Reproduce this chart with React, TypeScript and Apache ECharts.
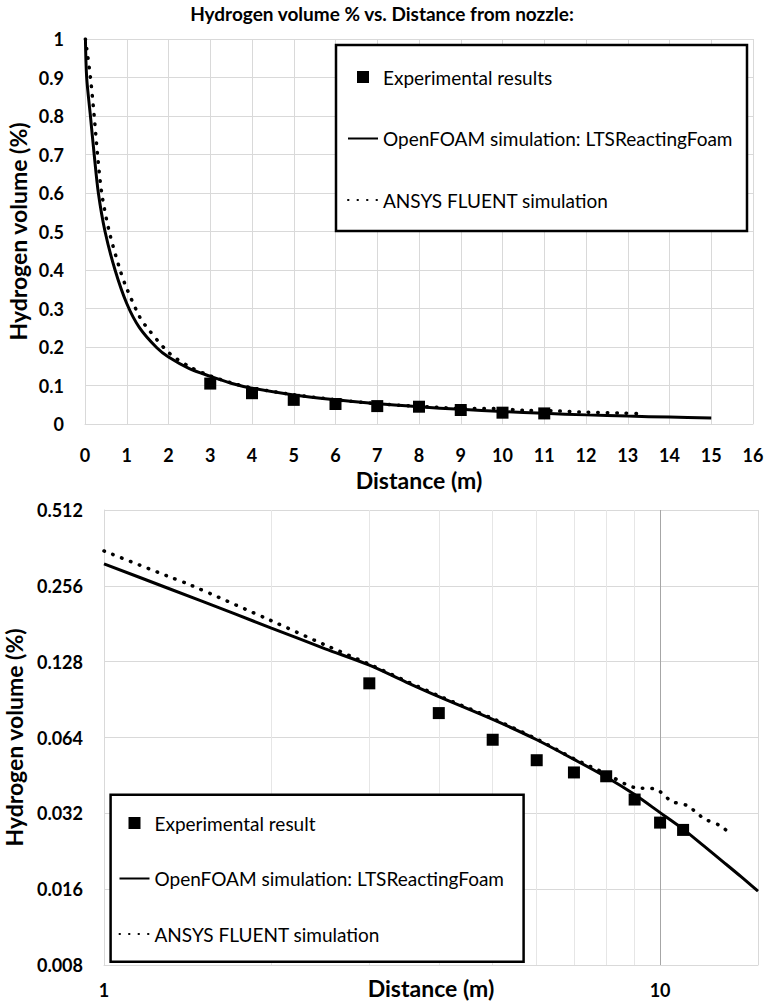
import React, { useEffect, useRef } from 'react';
import * as echarts from 'echarts';

// ---- data ----
const expX = [3, 4, 5, 6, 7, 8, 9, 10, 11];
const expY = [0.105, 0.080, 0.0627, 0.052, 0.0465, 0.0449, 0.0363, 0.0294, 0.0275];

const foamX = [0.01, 0.04, 0.13, 0.22, 0.32, 0.48, 0.72, 1.0, 1.3, 1.72, 2.0, 2.5, 3.0, 3.5, 4.0, 5.0, 6.0, 7.0, 8.0, 9.0, 10.0, 11.0, 12.0, 13.0, 14.0, 15.0];
const foamY = [1.0, 0.9, 0.8, 0.7, 0.6, 0.5, 0.4, 0.313, 0.251, 0.198, 0.174, 0.144, 0.124, 0.106, 0.093, 0.0755, 0.0627, 0.0524, 0.0446, 0.038, 0.0322, 0.0277, 0.0237, 0.0205, 0.0179, 0.0157];

const fluentX = [0.01, 0.13, 0.22, 0.30, 0.40, 0.58, 0.84, 1.0, 1.3, 1.43, 2.0, 2.5, 3.0, 3.5, 4.0, 5.0, 6.0, 7.0, 8.0, 9.0, 9.8, 10.5, 11.2, 12.0, 12.9, 13.3];
const fluentY = [1.0, 0.9, 0.8, 0.7, 0.6, 0.5, 0.4, 0.352, 0.28, 0.258, 0.186, 0.149, 0.125, 0.107, 0.0937, 0.0761, 0.0631, 0.0527, 0.0459, 0.0405, 0.040, 0.0357, 0.0343, 0.0305, 0.0284, 0.0267];

// tick / gridline values of the log/log chart
const minorLogX = [2, 3, 4, 5, 6, 7, 8, 9];
const logXLabels = [1, 10];
const logYTicks = [0.008, 0.016, 0.032, 0.064, 0.128, 0.256, 0.512];

const TITLE = 'Hydrogen volume % vs. Distance from nozzle:';
const X_NAME = 'Distance (m)';
const Y_NAME = 'Hydrogen volume (%)';
const EXP_TOP = 'Experimental results';
const EXP_BOTTOM = 'Experimental result';
const FOAM = 'OpenFOAM simulation: LTSReactingFoam';
const FLUENT = 'ANSYS FLUENT simulation';

const zip = (xs: number[], ys: number[]) => xs.map((x, i) => [x, ys[i]]);

const FONT = 'Lato, "Noto Sans", sans-serif';
const SQUARE = 'path://M0 0H10V10H0Z';
const GRID_C = '#d9d9d9';

export default function App() {
  const ref = useRef<HTMLDivElement>(null);
  useEffect(() => {
    if (!ref.current) return;
    const chart = echarts.init(ref.current, undefined, { renderer: 'svg' });

    const labelStyle = { color: '#000', fontFamily: FONT, fontWeight: 'bold' as const, fontSize: 18 };
    const nameStyle = { color: '#000', fontFamily: FONT, fontWeight: 'bold' as const, fontSize: 23 };
    const legendText = { color: '#000', fontFamily: FONT, fontSize: 19, lineHeight: 20 };

    const expPts = zip(expX, expY);
    const foamPts = zip(foamX, foamY);
    const fluentPts = zip(fluentX, fluentY);

    const solid = { color: '#000', width: 3 };
    const dotted = { color: '#000', width: 3.5, type: [0.5, 9], cap: 'round' };
    const hideSymbol = { itemStyle: { opacity: 0 } };

    const option: any = {
      animation: false,
      backgroundColor: '#fff',
      title: {
        text: TITLE,
        left: 'center',
        top: 4,
        padding: 0,
        textStyle: { color: '#000', fontFamily: FONT, fontWeight: 'bold', fontSize: 19 },
      },
      grid: [
        { left: 85, top: 39, width: 668, height: 385, outerBoundsMode: 'none', containLabel: false },
        { left: 104, top: 510, width: 654, height: 455, outerBoundsMode: 'none', containLabel: false },
      ],
      xAxis: [
        {
          gridIndex: 0, type: 'value', min: 0, max: 16, interval: 1,
          axisLine: { onZero: false, lineStyle: { color: GRID_C } },
          axisTick: { show: false },
          splitLine: { show: true, lineStyle: { color: GRID_C } },
          axisLabel: { ...labelStyle, margin: 22 },
          name: X_NAME, nameLocation: 'middle', nameGap: 44, nameMoveOverlap: false, nameTextStyle: nameStyle,
        },
        {
          gridIndex: 1, type: 'log', logBase: 10, min: 1, max: 15,
          axisLine: { onZero: false, lineStyle: { color: GRID_C } },
          axisTick: { show: false },
          splitLine: { show: true, lineStyle: { color: [GRID_C, '#a6a6a6', GRID_C] } },
          axisLabel: {
            ...labelStyle, margin: 16,
            customValues: logXLabels,
            formatter: (v: number) => String(Math.round(v)),
          },
          name: X_NAME, nameLocation: 'middle', nameGap: 11, nameMoveOverlap: false, nameTextStyle: nameStyle,
        },
      ],
      yAxis: [
        {
          gridIndex: 0, type: 'value', min: 0, max: 1, interval: 0.1,
          axisLine: { show: true, onZero: false, lineStyle: { color: GRID_C } },
          axisTick: { show: false },
          splitLine: { show: true, lineStyle: { color: GRID_C } },
          axisLabel: { ...labelStyle, margin: 21 },
          name: Y_NAME, nameLocation: 'middle', nameGap: 56, nameMoveOverlap: false, nameTextStyle: nameStyle,
        },
        {
          gridIndex: 1, type: 'log', logBase: 2, min: 0.008, max: 0.512,
          axisLine: { show: true, onZero: false, lineStyle: { color: GRID_C } },
          axisTick: { show: false, customValues: logYTicks },
          splitLine: { show: true, lineStyle: { color: GRID_C } },
          axisLabel: {
            ...labelStyle, margin: 21,
            customValues: logYTicks,
            formatter: (v: number) => v.toFixed(3),
          },
          name: Y_NAME, nameLocation: 'middle', nameGap: 79, nameMoveOverlap: false, nameTextStyle: nameStyle,
        },
      ],
      legend: [
        {
          data: [{ name: EXP_TOP, icon: SQUARE }, { name: FOAM, ...hideSymbol }, { name: FLUENT, ...hideSymbol }],
          orient: 'vertical', left: 347, top: 67, padding: 0,
          itemWidth: 30, itemHeight: 12, itemGap: 41.5,
          textStyle: legendText, selectedMode: false, z: 10,
        },
        {
          data: [{ name: EXP_BOTTOM, icon: SQUARE }, { name: FOAM, ...hideSymbol }, { name: FLUENT, ...hideSymbol }],
          orient: 'vertical', left: 118.5, top: 813, padding: 0,
          itemWidth: 30, itemHeight: 12, itemGap: 35.5,
          textStyle: legendText, selectedMode: false, z: 10,
        },
      ],
      graphic: [
        { type: 'rect', z: 5, shape: { x: 336, y: 45, width: 411, height: 186 }, style: { fill: '#fff', stroke: '#000', lineWidth: 2.5 } },
        { type: 'rect', z: 5, shape: { x: 110.6, y: 794.7, width: 413, height: 167 }, style: { fill: '#fff', stroke: '#000', lineWidth: 2.5 } },
      ],
      series: [
        {
          type: 'line', xAxisIndex: 1, yAxisIndex: 1, data: [], silent: true, z: 1,
          markLine: {
            silent: true, symbol: ['none', 'none'], z: 1,
            emphasis: { disabled: true },
            label: { show: false },
            lineStyle: { color: '#e6e6e6', width: 1, type: 'solid' },
            data: minorLogX.map((x) => ({ xAxis: x })),
          },
        },
        {
          type: 'scatter', name: EXP_TOP, xAxisIndex: 0, yAxisIndex: 0, data: expPts,
          symbol: 'rect', symbolSize: 12, itemStyle: { color: '#000', opacity: 1 }, z: 4,
        },
        {
          type: 'line', name: FOAM, xAxisIndex: 0, yAxisIndex: 0, data: foamPts,
          symbol: 'none', smooth: 0.3, lineStyle: solid, itemStyle: { color: '#000' }, z: 3,
        },
        {
          type: 'line', name: FLUENT, xAxisIndex: 0, yAxisIndex: 0, data: fluentPts,
          symbol: 'none', smooth: 0.3, lineStyle: dotted, itemStyle: { color: '#000' }, z: 3,
        },
        {
          type: 'scatter', name: EXP_BOTTOM, xAxisIndex: 1, yAxisIndex: 1, data: expPts,
          symbol: 'rect', symbolSize: 12, itemStyle: { color: '#000', opacity: 1 }, z: 4,
        },
        {
          type: 'line', name: FOAM, xAxisIndex: 1, yAxisIndex: 1, data: foamPts.filter((p) => p[0] >= 1),
          symbol: 'none', smooth: 0.3, lineStyle: solid, itemStyle: { color: '#000' }, z: 3,
        },
        {
          type: 'line', name: FLUENT, xAxisIndex: 1, yAxisIndex: 1, data: fluentPts.filter((p) => p[0] >= 1),
          symbol: 'none', smooth: 0.3, lineStyle: dotted, itemStyle: { color: '#000' }, z: 3,
        },
      ],
    };
    chart.setOption(option);
    return () => chart.dispose();
  }, []);

  return (
    <div
      ref={ref}
      style={{ position: 'absolute', left: 0, top: 0, width: '764px', height: '1003px', background: '#fff' }}
    />
  );
}
